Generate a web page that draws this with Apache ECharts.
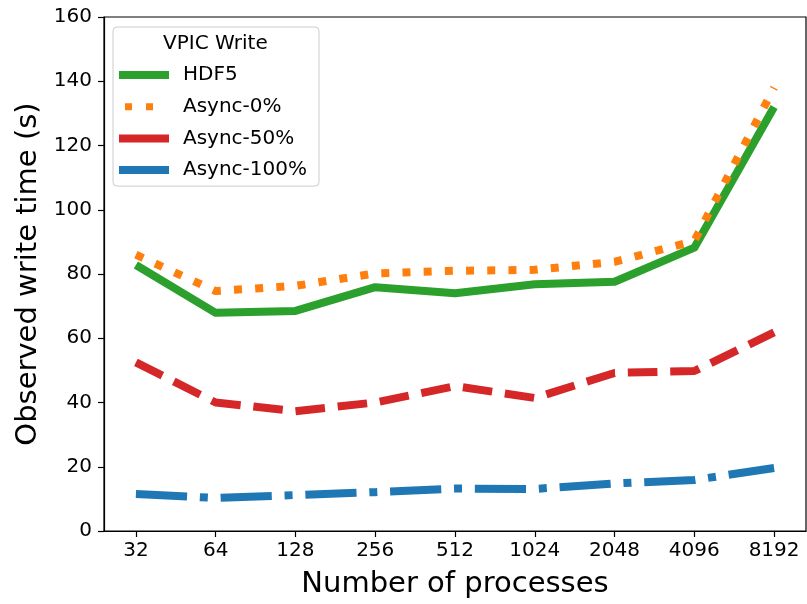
<!DOCTYPE html>
<html>
<head>
<meta charset="utf-8">
<script src="https://cdn.jsdelivr.net/npm/echarts@6/dist/echarts.min.js"></script>
<style>html,body{margin:0;padding:0;background:#fff;}#c{width:807px;height:604px;}</style>
</head>
<body>
<div id="c"></div>
<script>
const categories = ['32','64','128','256','512','1024','2048','4096','8192'];
const hdf5     = [82.8, 67.9, 68.5, 75.9, 74.0, 76.8, 77.6, 88.2, 132.0];
const async0   = [86.0, 74.7, 76.3, 80.2, 81.0, 81.3, 83.8, 90.3, 138.0];
const async50  = [52.5, 40.0, 37.3, 40.0, 45.1, 41.4, 49.2, 49.8, 61.8];
const async100 = [11.5, 10.3, 11.2, 12.1, 13.2, 13.1, 14.8, 15.9, 19.6];
const yTicks = [0, 20, 40, 60, 80, 100, 120, 140, 160];

const FONT = 'DejaVu Sans';
const toPts = arr => arr.map((v, i) => [i, v]);
const idx = categories.map((c, i) => i);

const chart = echarts.init(document.getElementById('c'), null, {renderer: 'canvas'});
const mk = (name, data, color, type) => ({
  name, type: 'line', data: toPts(data), showSymbol: false, symbol: 'none',
  animation: false,
  lineStyle: {color, width: 8, type, cap: 'butt', join: 'round'},
  itemStyle: {color}
});
const dotIcon = 'path://M0,0 M6,0.5h7v7h-7z M27,0.5h7v7h-7z M50,8';
chart.setOption({
  animation: false,
  backgroundColor: '#fff',
  title: {
    text: 'VPIC Write', left: 163, top: 34, padding: 0,
    textStyle: {fontFamily: FONT, fontSize: 20, fontWeight: 'normal', color: '#000'}
  },
  legend: {
    orient: 'vertical', left: 113, top: 27,
    padding: [38, 12, 6, 6],
    itemWidth: 50, itemHeight: 8, itemGap: 11.7,
    borderColor: '#cccccc', borderWidth: 1, borderRadius: 4,
    backgroundColor: 'rgba(255,255,255,0.8)',
    textStyle: {fontFamily: FONT, fontSize: 20, color: '#000', lineHeight: 20, padding: [0, 0, 0, 9]},
    data: [
      {name: 'HDF5', icon: 'rect'},
      {name: 'Async-0%', icon: dotIcon},
      {name: 'Async-50%', icon: 'rect'},
      {name: 'Async-100%', icon: 'rect'}
    ]
  },
  grid: {left: 104, right: 1, top: 17, bottom: 73, show: true, borderColor: '#000', borderWidth: 1.2, backgroundColor: 'transparent'},
  xAxis: {
    type: 'value', min: -0.4, max: 8.4,
    name: 'Number of processes', nameLocation: 'middle', nameGap: 39,
    nameTextStyle: {fontFamily: FONT, fontSize: 29, color: '#000'},
    axisLine: {show: true, onZero: false, lineStyle: {color: '#000', width: 1.2}},
    axisTick: {show: true, inside: false, length: 6, customValues: idx, lineStyle: {color: '#000', width: 1.2}},
    axisLabel: {customValues: idx, formatter: v => categories[Math.round(v)], fontFamily: FONT, fontSize: 20, color: '#000', margin: 10},
    splitLine: {show: false}
  },
  yAxis: {
    type: 'value', min: 0, max: 160, interval: 20,
    name: 'Observed write time (s)', nameLocation: 'middle', nameGap: 59,
    nameTextStyle: {fontFamily: FONT, fontSize: 29, color: '#000'},
    axisLine: {show: true, onZero: false, lineStyle: {color: '#000', width: 1.2}},
    axisTick: {show: true, inside: false, length: 6, lineStyle: {color: '#000', width: 1.2}},
    axisLabel: {fontFamily: FONT, fontSize: 20, color: '#000', margin: 12,
      formatter: v => yTicks.includes(v) ? String(v) : ''},
    splitLine: {show: false}
  },
  series: [
    mk('HDF5', hdf5, '#2ca02c', 'solid'),
    mk('Async-0%', async0, '#ff7f0e', [8, 13.2]),
    mk('Async-50%', async50, '#d62728', [29.6, 12.8]),
    mk('Async-100%', async100, '#1f77b4', [51.2, 12.8, 8, 12.8])
  ]
});
</script>
</body>
</html>
